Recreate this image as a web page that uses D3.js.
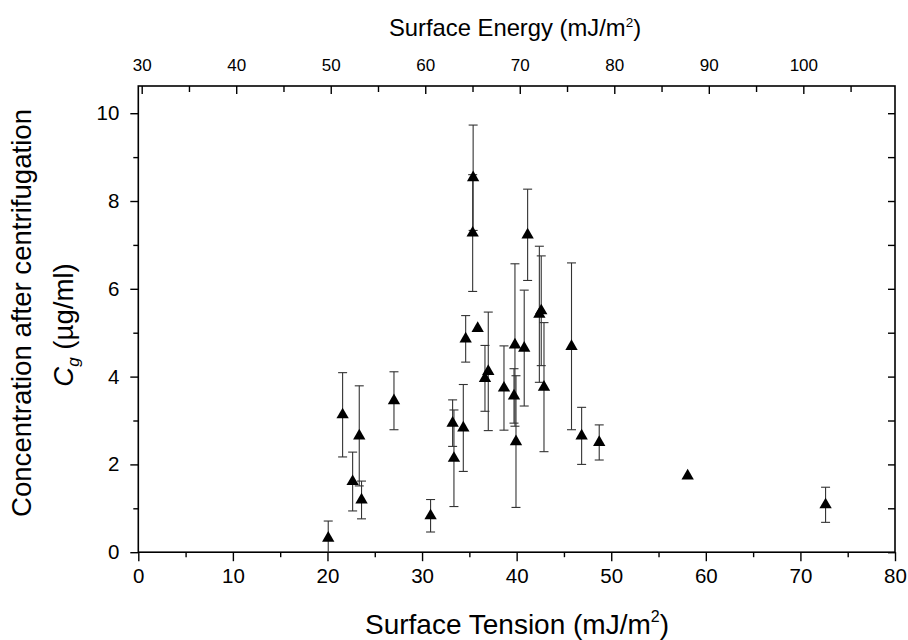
<!DOCTYPE html>
<html><head><meta charset="utf-8">
<script src="https://cdn.jsdelivr.net/npm/d3@7"></script>
<style>
body{margin:0;background:#fff}
text{font-family:"Liberation Sans",Arial,sans-serif;fill:#000}
</style></head>
<body><svg id="c" width="908" height="640"></svg>
<script>
// ---- data ----
const tension = [20.08,21.6,22.66,23.36,23.6,27.03,30.9,33.23,33.37,34.36,34.61,35.4,35.35,35.88,36.65,37.0,38.66,39.72,39.82,39.93,40.8,41.16,42.4,42.6,42.89,45.8,46.87,48.73,58.08,72.66];
const conc    = [0.32,3.13,1.61,2.65,1.19,3.45,0.83,2.94,2.14,2.83,4.86,8.53,7.27,5.1,3.96,4.12,3.74,3.56,4.72,2.52,4.65,7.23,5.42,5.5,3.76,4.69,2.65,2.5,1.74,1.08];
const concErr = [0.39,0.96,0.67,1.14,0.43,0.66,0.37,0.53,1.1,0.99,0.53,1.2,1.33,0,0.75,1.35,0.96,0.62,1.85,1.5,1.32,1.04,1.55,1.25,1.47,1.9,0.65,0.4,0,0.4];
const xTicks = [0,10,20,30,40,50,60,70,80];
const xMinor = [5,15,25,35,45,55,65,75];
const topTicks = [30,40,50,60,70,80,90,100];
const topMinor = [35,45,55,65,75,85,95,105];
const yTicks = [0,2,4,6,8,10];
const yMinor = [1,3,5,7,9];

const L=138.3, R=895, T=86, B=552.2;
const svg=d3.select("#c");
const x=d3.scaleLinear().domain([0,80]).range([L,R]);
const xTop=d3.scaleLinear().domain([29.64,109.7]).range([L,R]);
const y=d3.scaleLinear().domain([0,10.62]).range([B,T]);

function style(g,fs){
  g.select(".domain").remove();
  g.selectAll("line").attr("stroke","#000").attr("stroke-width",1.4);
  g.selectAll("text").attr("font-size",fs).attr("fill","#000").attr("font-family","Liberation Sans, Arial, sans-serif");
}
// bottom
svg.append("g").attr("transform",`translate(0,${B})`)
  .call(d3.axisBottom(x).tickValues(xTicks).tickSizeOuter(0).tickSize(9).tickPadding(7).tickFormat(d3.format("d")))
  .call(g=>style(g,20.5));
svg.append("g").attr("transform",`translate(0,${B})`)
  .call(d3.axisBottom(x).tickValues(xMinor).tickSizeOuter(0).tickSize(5).tickFormat(""))
  .call(g=>style(g,20));
// top
svg.append("g").attr("transform",`translate(0,${T})`)
  .call(d3.axisTop(xTop).tickValues(topTicks).tickSizeOuter(0).tickSizeInner(-8).tickPadding(15).tickFormat(d3.format("d")))
  .call(g=>style(g,17));
svg.append("g").attr("transform",`translate(0,${T})`)
  .call(d3.axisTop(xTop).tickValues(topMinor).tickSizeOuter(0).tickSizeInner(-6).tickFormat(""))
  .call(g=>style(g,17));
// left
svg.append("g").attr("transform",`translate(${L},0)`)
  .call(d3.axisLeft(y).tickValues(yTicks).tickSizeOuter(0).tickSize(8).tickPadding(11).tickFormat(d3.format("d")))
  .call(g=>style(g,20.5));
svg.append("g").attr("transform",`translate(${L},0)`)
  .call(d3.axisLeft(y).tickValues(yMinor).tickSizeOuter(0).tickSize(5).tickFormat(""))
  .call(g=>style(g,20));
// right
svg.append("g").attr("transform",`translate(${R},0)`)
  .call(d3.axisRight(y).tickValues(yTicks.concat(yMinor)).tickSizeOuter(0).tickSizeInner(-7).tickFormat(""))
  .call(g=>style(g,20));

// frame
svg.append("rect").attr("x",L).attr("y",T).attr("width",R-L).attr("height",B-T)
  .attr("fill","none").attr("stroke","#000").attr("stroke-width",1.6);

// data
const pts=tension.map((t,i)=>({t,c:conc[i],e:concErr[i]}));
const eb=svg.append("g").attr("stroke","#333").attr("stroke-width",1.1);
pts.filter(d=>d.e>0).forEach(d=>{
  const cx=x(d.t), y1=y(d.c+d.e), y0=y(Math.max(0,d.c-d.e));
  eb.append("line").attr("x1",cx).attr("x2",cx).attr("y1",y1).attr("y2",y0);
  eb.append("line").attr("x1",cx-4.5).attr("x2",cx+4.5).attr("y1",y1).attr("y2",y1);
  if(d.c-d.e>0) eb.append("line").attr("x1",cx-4.5).attr("x2",cx+4.5).attr("y1",y0).attr("y2",y0);
});
const sym=d3.symbol().type(d3.symbolTriangle).size(66);
svg.append("g").selectAll("path").data(pts).join("path")
  .attr("d",sym).attr("transform",d=>`translate(${x(d.t)},${y(d.c)})`).attr("fill","#000");

// titles
const bt=svg.append("text").attr("x",517).attr("y",634).attr("text-anchor","middle").attr("font-size",28);
bt.append("tspan").text("Surface Tension (mJ/m");
bt.append("tspan").attr("font-size",16).attr("dy",-12).text("2");
bt.append("tspan").attr("dy",12).text(")");
const tt=svg.append("text").attr("x",515).attr("y",36).attr("text-anchor","middle").attr("font-size",23.8);
tt.append("tspan").text("Surface Energy (mJ/m");
tt.append("tspan").attr("font-size",13.5).attr("dy",-9).text("2");
tt.append("tspan").attr("dy",9).text(")");
svg.append("text").attr("transform","translate(31,313) rotate(-90)").attr("text-anchor","middle").attr("font-size",27.6)
  .text("Concentration after centrifugation");
const yt=svg.append("text").attr("transform","translate(73,325) rotate(-90)").attr("text-anchor","middle").attr("font-size",27.6);
yt.append("tspan").attr("font-style","italic").text("C");
yt.append("tspan").attr("font-style","italic").attr("font-size",17).attr("dy",6).text("g");
yt.append("tspan").attr("dy",-6).text(" (\u00b5g/ml)");
</script></body></html>
